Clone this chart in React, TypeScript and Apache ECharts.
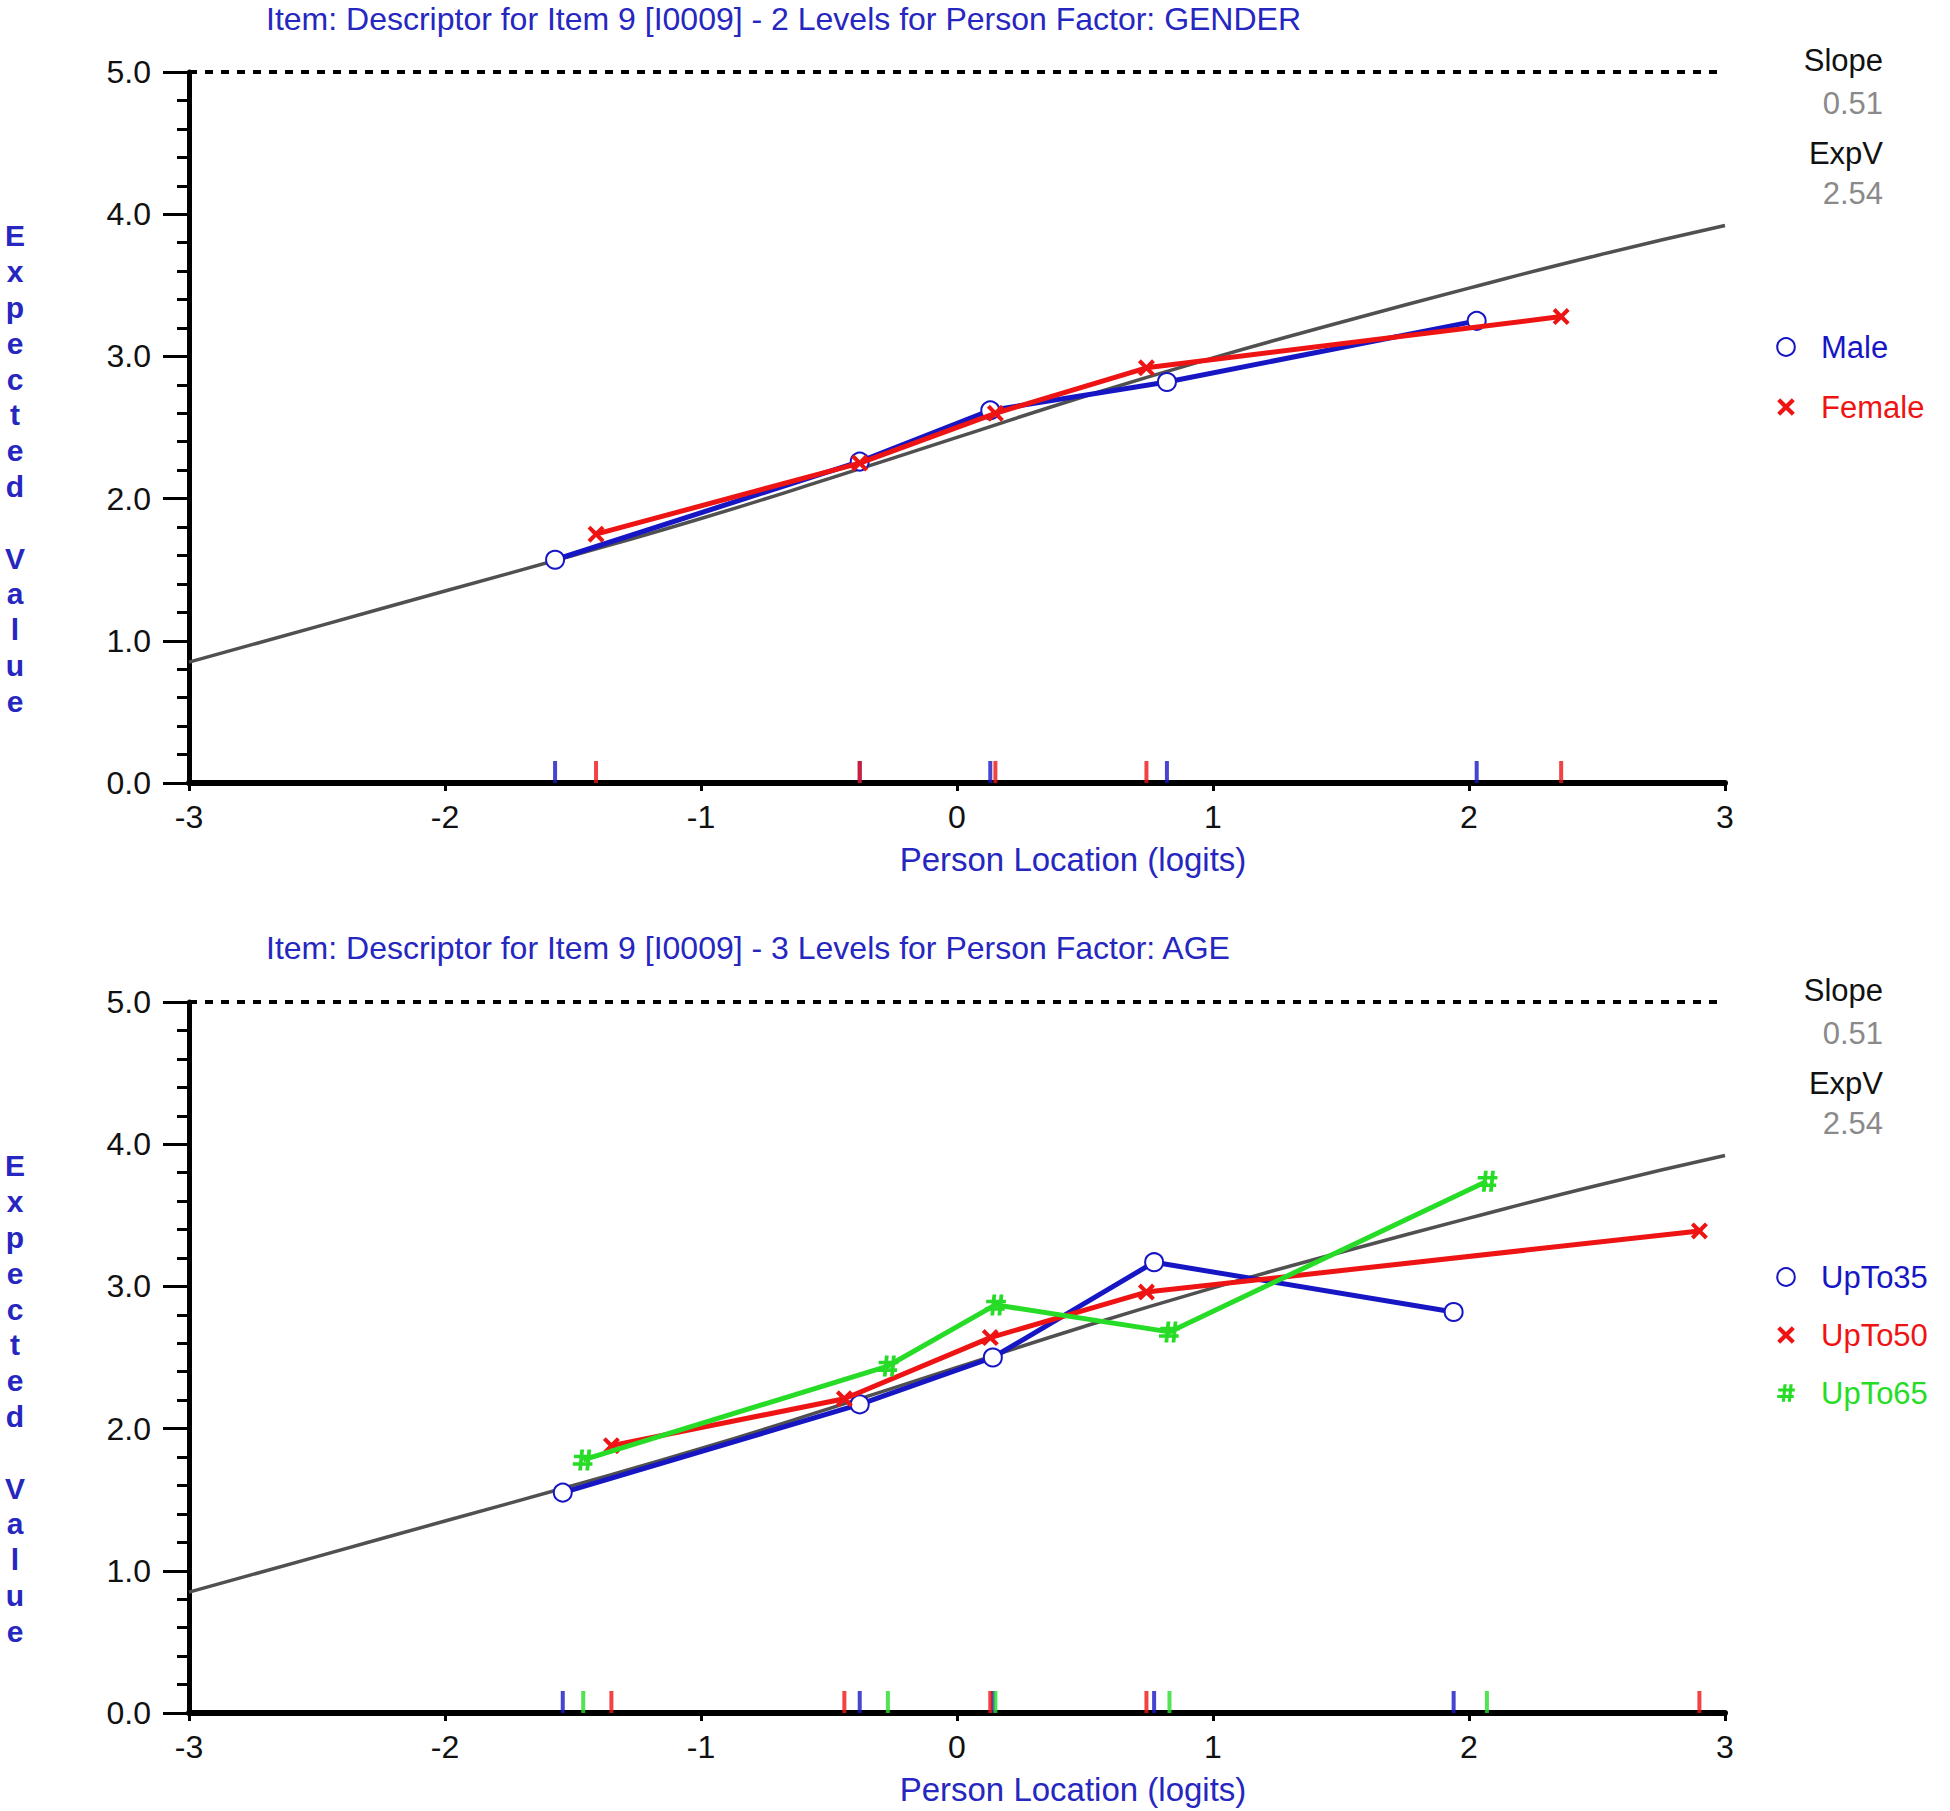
import React, { useEffect, useRef } from "react";
import * as echarts from "echarts";

// ---------- data ----------
const TITLES = [
  "Item: Descriptor for Item 9 [I0009] - 2 Levels for Person Factor: GENDER",
  "Item: Descriptor for Item 9 [I0009] - 3 Levels for Person Factor: AGE",
];
const X_TICKS = [-3, -2, -1, 0, 1, 2, 3];
const Y_TICKS = [0, 1, 2, 3, 4, 5];
const SLOPE = "0.51";
const EXPV = "2.54";

// expected value curve
const iccX = [-3, -2.5, -2, -1.5, -1, -0.5, 0, 0.5, 1, 1.5, 2, 2.5, 3];
const iccY = [0.85, 1.1, 1.35, 1.6, 1.86, 2.14, 2.43, 2.72, 2.99, 3.24, 3.48, 3.71, 3.92];

// GENDER
const maleX = [-1.57, -0.38, 0.13, 0.82, 2.03];
const maleY = [1.57, 2.26, 2.62, 2.82, 3.25];
const femaleX = [-1.41, -0.38, 0.15, 0.74, 2.36];
const femaleY = [1.75, 2.25, 2.6, 2.92, 3.28];

// AGE
const upTo35X = [-1.54, -0.38, 0.14, 0.77, 1.94];
const upTo35Y = [1.55, 2.17, 2.5, 3.17, 2.82];
const upTo50X = [-1.35, -0.44, 0.13, 0.74, 2.9];
const upTo50Y = [1.88, 2.21, 2.64, 2.96, 3.39];
const upTo65X = [-1.46, -0.27, 0.15, 0.83, 2.07];
const upTo65Y = [1.78, 2.44, 2.87, 2.68, 3.74];

// ---------- styling ----------
const FONT = "Liberation Sans, Arial, sans-serif";
const BLUE = "#1616c4";
const RED = "#ee1414";
const GREEN = "#26dc26";
const TITLE_BLUE = "#2626c0";
const CIRCLE = "emptyCircle";
const CROSS =
  "path://M0,1.7L1.7,0L5,3.3L8.3,0L10,1.7L6.7,5L10,8.3L8.3,10L5,6.7L1.7,10L0,8.3L3.3,5Z";
const HASH =
  "path://M3.6,0h1.8l-1,10h-1.8z M7,0h1.8l-1,10h-1.8z M0.6,2.5h9.4v1.7h-9.4z M0,6.1h9.4v1.7h-9.4z";

const zip = (xs: number[], ys: number[]) => xs.map((x, i) => [x, ys[i]]);
const rug = (xs: number[]) => xs.map((x) => [x, 0]);

const GRID_LEFT = 189;
const GRID_W = 1536;
const GRID_H = 711;
const GRID_TOPS = [72, 1002];
const DY = GRID_TOPS[1] - GRID_TOPS[0];

type Group = { name: string; xs: number[]; ys: number[]; color: string; symbol: string; size: number };

const groups: Group[][] = [
  [
    { name: "Male", xs: maleX, ys: maleY, color: BLUE, symbol: CIRCLE, size: 18 },
    { name: "Female", xs: femaleX, ys: femaleY, color: RED, symbol: CROSS, size: 17 },
  ],
  [
    { name: "UpTo35", xs: upTo35X, ys: upTo35Y, color: BLUE, symbol: CIRCLE, size: 18 },
    { name: "UpTo50", xs: upTo50X, ys: upTo50Y, color: RED, symbol: CROSS, size: 17 },
    { name: "UpTo65", xs: upTo65X, ys: upTo65Y, color: GREEN, symbol: HASH, size: 21 },
  ],
];

function buildOption() {
  const series: any[] = [];
  groups.forEach((gs, gi) => {
    series.push({
      type: "line",
      name: "ICC" + gi,
      xAxisIndex: gi,
      yAxisIndex: gi,
      data: zip(iccX, iccY),
      smooth: true,
      showSymbol: false,
      silent: true,
      z: 1,
      lineStyle: { color: "#505050", width: 3.5 },
      markLine: {
        silent: true,
        symbol: ["none", "none"],
        label: { show: false },
        lineStyle: { color: "#000", type: [8, 8], width: 4 },
        data: [{ yAxis: 5 }],
      },
    });
    gs.forEach((g, k) => {
      series.push({
        type: "line",
        name: g.name,
        xAxisIndex: gi,
        yAxisIndex: gi,
        data: zip(g.xs, g.ys),
        symbol: g.symbol,
        symbolSize: g.size,
        showAllSymbol: true,
        z: 3 + k,
        lineStyle: { color: g.color, width: 5 },
        itemStyle: { color: g.color, borderColor: g.color, borderWidth: g.symbol === CIRCLE ? 3.5 : 0 },
      });
      series.push({
        type: "scatter",
        name: g.name + " rug",
        xAxisIndex: gi,
        yAxisIndex: gi,
        data: rug(g.xs),
        symbol: "rect",
        symbolSize: [4, 22],
        symbolOffset: [0, -11],
        clip: false,
        silent: true,
        z: 6,
        itemStyle: { color: g.color },
      });
    });
  });

  const grids = GRID_TOPS.map((t) => ({ left: GRID_LEFT, top: t, width: GRID_W, height: GRID_H }));

  const xAxes = GRID_TOPS.map((_, i) => ({
    gridIndex: i,
    type: "value",
    min: X_TICKS[0],
    max: X_TICKS[X_TICKS.length - 1],
    interval: 1,
    axisLine: { show: true, onZero: false, lineStyle: { color: "#000", width: 6 } },
    axisTick: { show: true, length: 8, lineStyle: { color: "#000", width: 3 } },
    axisLabel: { fontSize: 32, color: "#111", margin: 18, fontFamily: FONT },
    splitLine: { show: false },
    name: "Person Location (logits)",
    nameLocation: "middle",
    nameGap: 60,
    nameTextStyle: { fontSize: 33, color: TITLE_BLUE, fontFamily: FONT, padding: [0, 0, 0, 232] },
  }));

  const yAxes = GRID_TOPS.map((_, i) => ({
    gridIndex: i,
    type: "value",
    min: Y_TICKS[0],
    max: Y_TICKS[Y_TICKS.length - 1],
    interval: 1,
    axisLine: { show: true, onZero: false, lineStyle: { color: "#000", width: 5 } },
    axisTick: { show: true, length: 26, lineStyle: { color: "#000", width: 3 } },
    minorTick: { show: true, splitNumber: 5, length: 12, lineStyle: { color: "#000", width: 3 } },
    axisLabel: {
      fontSize: 32,
      color: "#111",
      margin: 38,
      fontFamily: FONT,
      formatter: (v: number) => v.toFixed(1),
    },
    splitLine: { show: false },
  }));

  const legends = groups.map((gs, gi) => ({
    orient: "vertical",
    left: 1751,
    top: 324 + gi * DY,
    itemWidth: 60,
    itemHeight: 22,
    itemGap: gi === 0 ? 24 : 22,
    selectedMode: false,
    lineStyle: { opacity: 0, width: 0 },
    textStyle: { fontSize: 31, lineHeight: 36, fontFamily: FONT },
    data: gs.map((g) => ({ name: g.name, textStyle: { color: g.color } })),
  }));

  const titles = TITLES.map((t, i) => ({
    text: t,
    left: 266,
    top: i === 0 ? 3 : 932,
    padding: 0,
    textStyle: { fontSize: 32, fontWeight: "normal", color: TITLE_BLUE, fontFamily: FONT },
  }));

  const graphic: any[] = [];
  GRID_TOPS.forEach((_, i) => {
    const o = i * DY;
    const side = [
      { t: "Slope", y: 60, c: "#111" },
      { t: SLOPE, y: 103, c: "#8a8a8a" },
      { t: "ExpV", y: 153, c: "#111" },
      { t: EXPV, y: 193, c: "#8a8a8a" },
    ];
    side.forEach((s) =>
      graphic.push({
        type: "text",
        x: 1883,
        y: s.y + o,
        silent: true,
        style: {
          text: s.t,
          fill: s.c,
          fontSize: 31,
          fontFamily: FONT,
          align: "right",
          textAlign: "right",
          verticalAlign: "middle",
          textVerticalAlign: "middle",
        },
      })
    );
    graphic.push({
      type: "text",
      x: 15,
      y: 218 + o,
      silent: true,
      style: {
        text: "E\nx\np\ne\nc\nt\ne\nd\n \nV\na\nl\nu\ne",
        fill: TITLE_BLUE,
        fontSize: 30,
        fontWeight: "bold",
        lineHeight: 35.8,
        fontFamily: FONT,
        align: "center",
        textAlign: "center",
        verticalAlign: "top",
        textVerticalAlign: "top",
      },
    });
  });

  return {
    animation: false,
    backgroundColor: "#fff",
    title: titles,
    grid: grids,
    xAxis: xAxes,
    yAxis: yAxes,
    legend: legends,
    graphic,
    series,
  };
}

export default function App() {
  const ref = useRef<HTMLDivElement>(null);
  useEffect(() => {
    document.body.style.margin = "0";
    const chart = echarts.init(ref.current as HTMLDivElement, null, { renderer: "svg" });
    chart.setOption(buildOption() as any);
    return () => chart.dispose();
  }, []);
  return <div ref={ref} style={{ width: 1950, height: 1811 }} />;
}
